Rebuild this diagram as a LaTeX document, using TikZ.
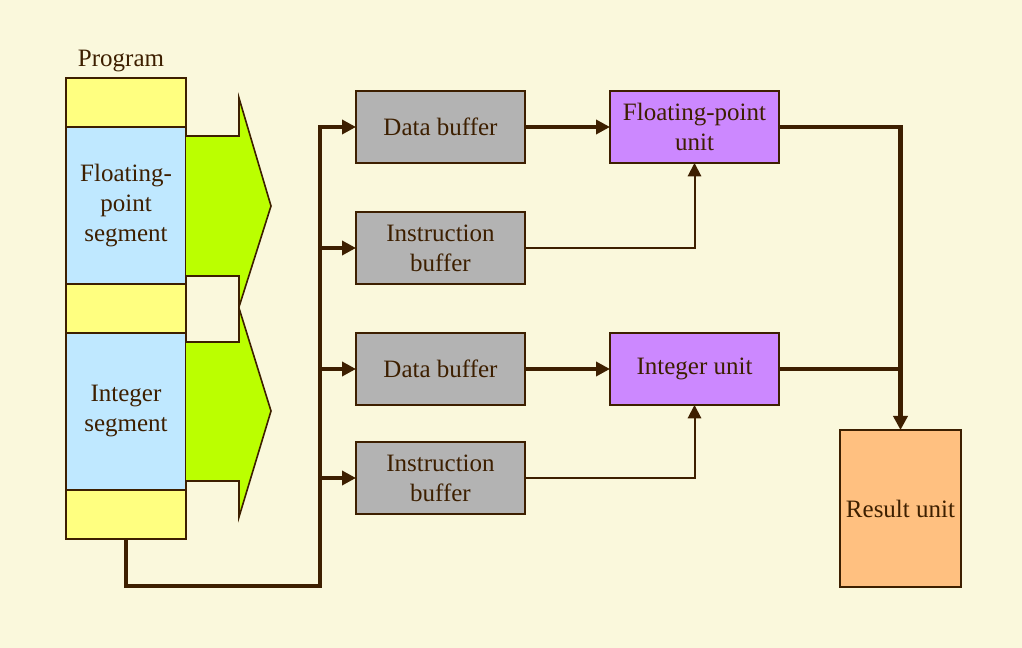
\documentclass[tikz,border=0pt]{standalone}
\usepackage{fontspec}
\setmainfont{Liberation Serif}
\usetikzlibrary{arrows.meta, positioning}
\usepackage{xcolor}
\definecolor{bgcol}{RGB}{250,248,220}
\definecolor{linecol}{RGB}{61,31,0}
\definecolor{segyellow}{RGB}{255,255,128}
\definecolor{segblue}{RGB}{191,232,255}
\definecolor{flowgreen}{RGB}{187,255,0}
\definecolor{bufgray}{RGB}{179,179,179}
\definecolor{unitpurple}{RGB}{204,136,255}
\definecolor{resorange}{RGB}{255,192,128}

\tikzset{
    box/.style={draw=linecol, line width=1.2pt, inner sep=0pt, outer sep=0pt,
        align=center, text=linecol, font=\fontsize{18.75}{22.5}\selectfont},
    yseg/.style={box, fill=segyellow, minimum width=90pt, minimum height=36.75pt},
    bseg/.style={box, fill=segblue, minimum width=90pt, minimum height=117.75pt},
    buffer/.style={box, fill=bufgray, minimum width=126.75pt, minimum height=54pt},
    unit/.style={box, fill=unitpurple, minimum width=126.75pt, minimum height=54pt},
    thickline/.style={draw=linecol, line width=3.2pt},
    thickarrow/.style={thickline, -{Triangle[length=10.5pt, width=10.5pt]}},
    thinarrow/.style={draw=linecol, line width=1.5pt, -{Triangle[length=10pt, width=10pt]}},
    flow/.style={fill=flowgreen, draw=linecol, line width=1.2pt}
}

\begin{document}
\begin{tikzpicture}[x=0.75pt, y=-0.75pt]
    \fill[bgcol] (0,0) rectangle (1022,648);
    \useasboundingbox (0,0) rectangle (1022,648);

    % program column
    \node (program) [text=linecol, font=\fontsize{18.75}{22.5}\selectfont] at (121,61) {Program};
    \node (seg1) [yseg, anchor=north] at (126,78) {};
    \node (fpseg) [bseg, below=0pt of seg1] {Floating-\\point\\segment};
    \node (seg3) [yseg, below=0pt of fpseg] {};
    \node (intseg) [bseg, below=0pt of seg3] {Integer\\segment};
    \node (seg5) [yseg, below=0pt of intseg] {};

    % green arrows
    \filldraw[flow] (186,136) -- (239,136) -- (239,98) -- (271,206)
        -- (239,307) -- (239,276) -- (186,276);
    \filldraw[flow] (186,342) -- (239,342) -- (239,308) -- (271,411)
        -- (239,517) -- (239,481) -- (186,481);

    % buffers
    \node (db1) [buffer] at (440.5,127) {Data buffer};
    \node (ib1) [buffer, below=36.75pt of db1] {Instruction\\buffer};
    \node (db2) [buffer, below=36.75pt of ib1] {Data buffer};
    \node (ib2) [buffer, below=27.75pt of db2] {Instruction\\buffer};

    % units
    \node (fpu) [unit, right=63.75pt of db1] {Floating-point\\unit};
    \node (intu) [unit, right=63.75pt of db2] {Integer unit};
    \node (result) [box, fill=resorange, minimum width=90.75pt, minimum height=117.75pt]
        at (900.5,508.5) {Result unit};

    % bus
    \coordinate (busbot) at (320,586);
    \draw[thickarrow] (seg5.south) |- (busbot) |- (db1.west);
    \draw[thickarrow] (ib1.west -| busbot) -- (ib1.west);
    \draw[thickarrow] (db2.west -| busbot) -- (db2.west);
    \draw[thickarrow] (ib2.west -| busbot) -- (ib2.west);

    % to units
    \draw[thickarrow] (db1) -- (fpu);
    \draw[thickarrow] (db2) -- (intu);
    \draw[thinarrow] (ib1.east) -| (fpu.south);
    \draw[thinarrow] (ib2.east) -| (intu.south);

    % to result
    \draw[thickarrow] (fpu.east) -| (result.north);
    \draw[thickline] (intu.east) -- (intu.east -| result.north);
\end{tikzpicture}
\end{document}
